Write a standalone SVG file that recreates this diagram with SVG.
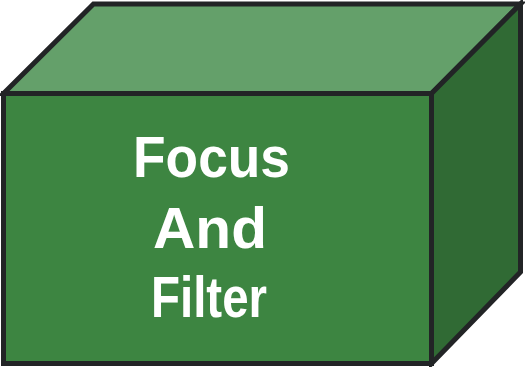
<svg xmlns="http://www.w3.org/2000/svg" width="525" height="367" viewBox="0 0 525 367">
<style>
.edge{stroke:#222426;stroke-width:5;stroke-linejoin:miter}
.lbl{font-family:"Liberation Sans",Arial,sans-serif;font-weight:bold;font-size:58px;fill:#ffffff;text-anchor:middle}
</style>
<rect width="525" height="367" fill="#ffffff"/>
<g id="box">
<polygon class="edge" fill="#64a06a" points="3.5,93.5 93.5,4 520.5,4 431.5,93.5"/>
<polygon class="edge" fill="#306a34" points="431.5,93.5 520.5,4 520.5,272 431.5,363.5"/>
<rect class="edge" fill="#3d8541" x="3.5" y="93.5" width="428" height="270"/>
</g>
<g id="label">
<text class="lbl" x="211.5" y="177" textLength="157" lengthAdjust="spacingAndGlyphs">Focus</text>
<text class="lbl" x="210" y="248" textLength="114" lengthAdjust="spacingAndGlyphs">And</text>
<text class="lbl" x="209" y="317" textLength="116" lengthAdjust="spacingAndGlyphs">Filter</text>
</g>
</svg>
